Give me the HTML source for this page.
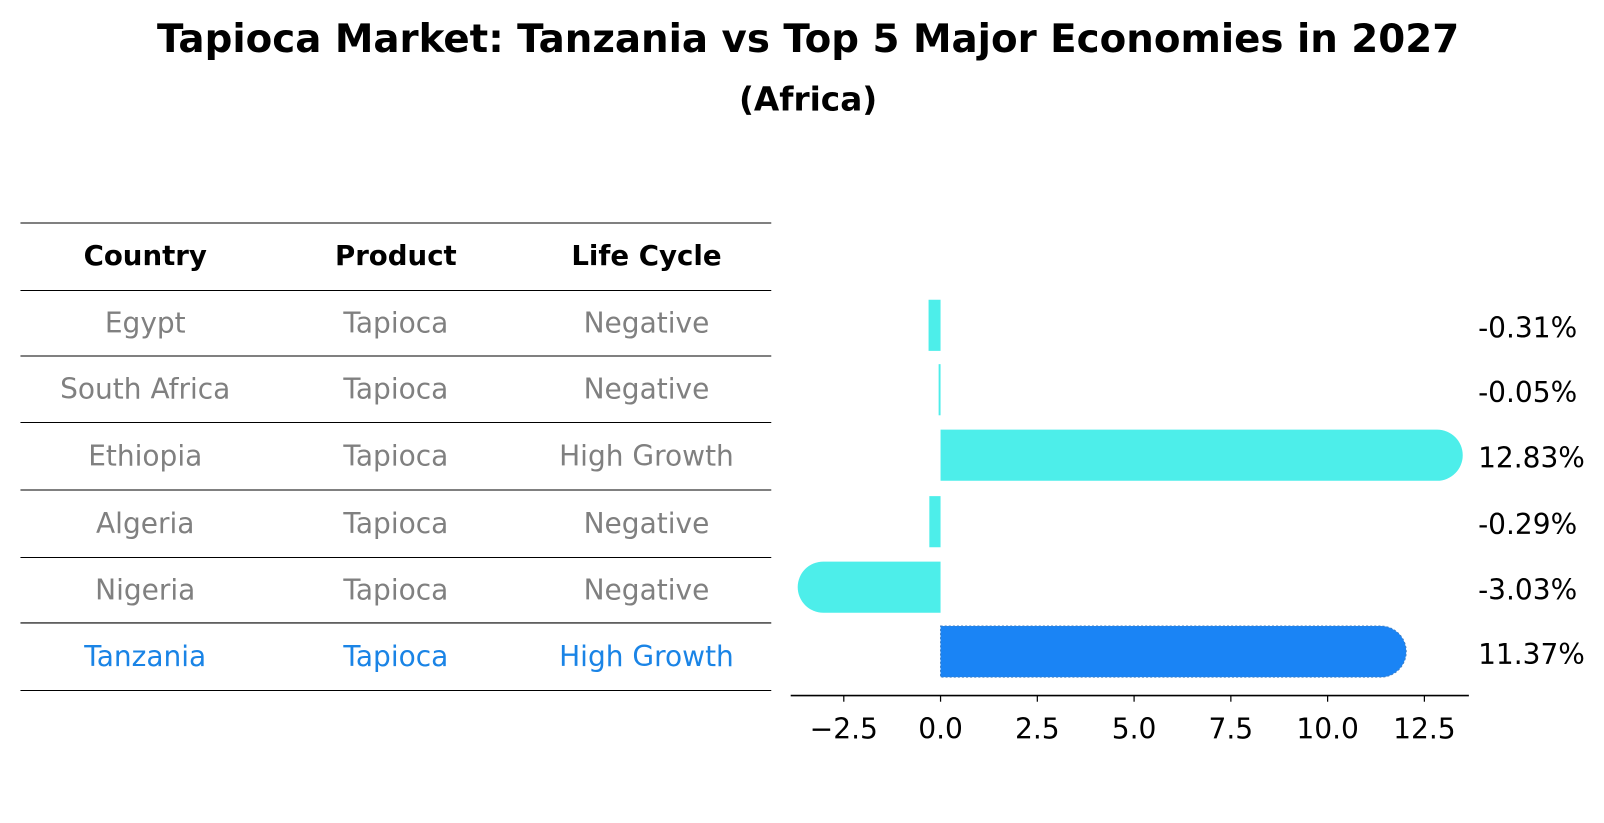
<!DOCTYPE html>
<html><head><meta charset="utf-8"><style>
body{margin:0;background:#fff;font-family:"Liberation Sans","DejaVu Sans",sans-serif;}
#wrap{position:relative;width:1604px;height:823px;overflow:hidden;}
</style></head><body>
<div id="wrap">
<svg id="svg" width="1604" height="823" xmlns="http://www.w3.org/2000/svg" font-family="DejaVu Sans, Liberation Sans, sans-serif">
<g transform="scale(1.0229)">
<text x="790" y="51" text-anchor="middle" font-size="37.9" font-weight="bold">Tapioca Market: Tanzania vs Top 5 Major Economies in 2027</text>
<text x="790" y="108" text-anchor="middle" font-size="32" font-weight="bold">(Africa)</text>
<g id="table"></g>
<g id="bars"></g>
</g>
</svg>
</div>
<script>
const countries=["Egypt","South Africa","Ethiopia","Algeria","Nigeria","Tanzania"];
const products=["Tapioca","Tapioca","Tapioca","Tapioca","Tapioca","Tapioca"];
const lifecycles=["Negative","Negative","High Growth","Negative","Negative","High Growth"];
const values=[-0.31,-0.05,12.83,-0.29,-3.03,11.37];
const ticks=[-2.5,0,2.5,5,7.5,10,12.5];
const NS="http://www.w3.org/2000/svg";
function mk(t,a,p){const e=document.createElementNS(NS,t);for(const k in a)e.setAttribute(k,a[k]);p.appendChild(e);return e;}
const tb=document.getElementById('table');
const rowY=[218,284,348,413,479,545,609,675];
rowY.forEach((y,i)=>{const l=mk('line',{x1:20,x2:754,y1:y,y2:y,stroke:'#000','stroke-width':1},tb);

});
const colX=[142,387,632];
["Country","Product","Life Cycle"].forEach((h,j)=>{const t=mk('text',{x:colX[j],y:259,'text-anchor':'middle','font-size':27,'font-weight':'bold'},tb);t.textContent=h;

});
countries.forEach((c,i)=>{const cy=(rowY[i+1]+rowY[i+2])/2+9;const col=c==="Tanzania"?"#1a84e6":"#808080";
[c,products[i],lifecycles[i]].forEach((v,j)=>{const t=mk('text',{x:colX[j],y:cy,'text-anchor':'middle','font-size':27.4,fill:col},tb);t.textContent=v;

});});
const g=document.getElementById('bars');
const x0=919.5,ppu=37.84;const X=v=>x0+v*ppu;
const ax=mk('line',{x1:773,x2:1436,y1:680,y2:680,stroke:'#000','stroke-width':1.5},g);


ticks.forEach(t=>{const l=mk('line',{x1:X(t),x2:X(t),y1:680,y2:686,stroke:'#000','stroke-width':1.2},g);


const tx=mk('text',{x:X(t),y:722,'text-anchor':'middle','font-size':27.5},g);tx.textContent=(t<0?'\u2212':'')+Math.abs(t).toFixed(1);

});
const centers=[318,381,445,510,574,637];const h=50,r=25;
values.forEach((v,i)=>{const cy=centers[i];const col=countries[i]==="Tanzania"?"#1a84f5":"#4deeea";
const a=X(0),b=X(v);let d;
if(Math.abs(v)>1){const s=v>0?1:-1;
d=`M${a},${cy-r} L${b},${cy-r} A${r},${r} 0 0 ${s>0?1:0} ${b},${cy+r} L${a},${cy+r} Z`;}
else{const lo=Math.min(a,b),hi=Math.max(a,b);d=`M${lo},${cy-r} L${hi},${cy-r} L${hi},${cy+r} L${lo},${cy+r} Z`;}
const p=mk('path',{d:d,fill:col},g);
if(countries[i]==="Tanzania"){p.setAttribute('stroke','#3f7fc4');p.setAttribute('stroke-dasharray','2,2');p.setAttribute('stroke-width','1');}


const t=mk('text',{x:1445,y:cy+12,'font-size':27.4},g);t.textContent=v.toFixed(2)+'%';

});
</script>
</body></html>
